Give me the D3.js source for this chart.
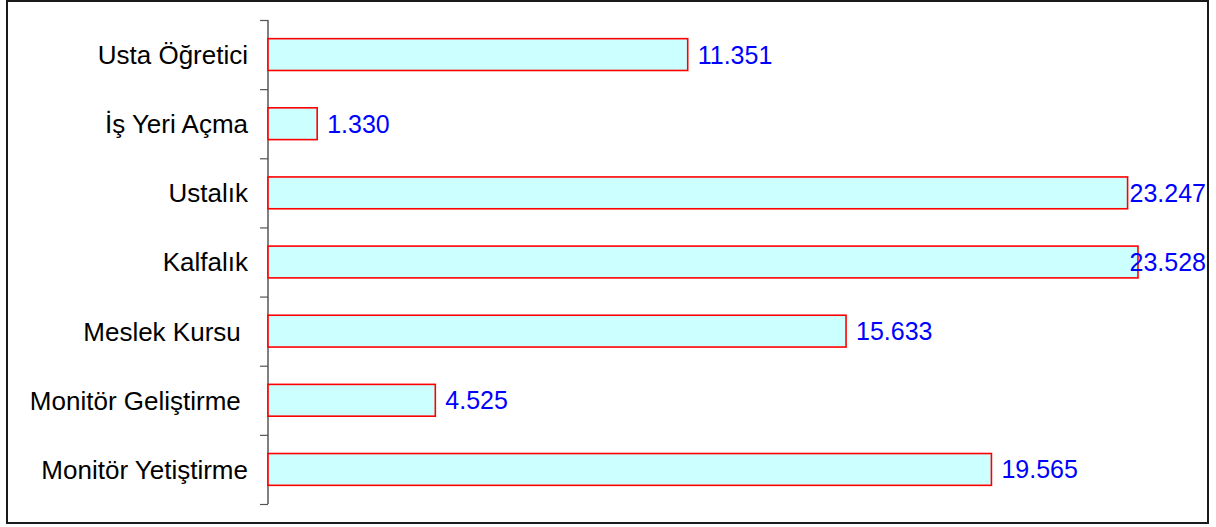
<!DOCTYPE html>
<html>
<head>
<meta charset="utf-8">
<script src="https://cdn.jsdelivr.net/npm/d3@7"></script>
<style>
  body { margin: 0; background: #fff; }
  svg text { font-family: "Liberation Sans", Arial, sans-serif; }
</style>
</head>
<body>
<div id="chart"></div>
<script>
const categories = ['Usta Öğretici', 'İş Yeri Açma', 'Ustalık', 'Kalfalık', 'Meslek Kursu ', 'Monitör Geliştirme ', 'Monitör Yetiştirme'];
const values = [11.351, 1.330, 23.247, 23.528, 15.633, 4.525, 19.565];
const valueLabels = ['11.351', '1.330', '23.247', '23.528', '15.633', '4.525', '19.565'];

const width = 1216;
const height = 527;

const plotLeft = 268;
const plotTop = 20;
const plotBottom = 504;
const labelRight = 1206;

const svg = d3.select('#chart').append('svg')
  .attr('width', width)
  .attr('height', height);

// outer frame
svg.append('rect')
  .attr('x', 7).attr('y', 1)
  .attr('width', 1201).attr('height', 522)
  .attr('fill', 'none')
  .attr('stroke', '#1a1a1a')
  .attr('stroke-width', 2);

const x = d3.scaleLinear().domain([0, 25]).range([plotLeft, plotLeft + 924.4]);
const y = d3.scaleBand().domain(categories).range([plotTop, plotBottom]).paddingInner(0.54).paddingOuter(0.27);

// category axis with tick marks at band boundaries
const band = (plotBottom - plotTop) / categories.length;
const axis = svg.append('g');
axis.append('line')
  .attr('x1', plotLeft).attr('x2', plotLeft)
  .attr('y1', plotTop).attr('y2', plotBottom)
  .attr('stroke', '#808080').attr('stroke-width', 2);
axis.selectAll('line.tick')
  .data(d3.range(categories.length + 1))
  .enter().append('line')
  .attr('class', 'tick')
  .attr('x1', plotLeft - 8).attr('x2', plotLeft)
  .attr('y1', i => plotTop + i * band + 0.5)
  .attr('y2', i => plotTop + i * band + 0.5)
  .attr('stroke', '#555').attr('stroke-width', 1.2);

axis.selectAll('text.cat')
  .data(categories)
  .enter().append('text')
  .attr('class', 'cat')
  .attr('x', 248)
  .attr('y', d => y(d) + y.bandwidth() / 2)
  .attr('dy', '0.36em')
  .attr('text-anchor', 'end')
  .attr('xml:space', 'preserve')
  .style('white-space', 'pre')
  .attr('font-size', 26)
  .attr('fill', '#000')
  .text(d => d);

// bars
svg.selectAll('rect.bar')
  .data(values)
  .enter().append('rect')
  .attr('class', 'bar')
  .attr('x', x(0))
  .attr('y', (d, i) => y(categories[i]))
  .attr('width', d => x(d) - x(0))
  .attr('height', y.bandwidth())
  .attr('fill', '#ccffff')
  .attr('stroke', '#ff0000')
  .attr('stroke-width', 1.6);

// value labels
const vl = svg.selectAll('text.val')
  .data(values)
  .enter().append('text')
  .attr('class', 'val')
  .attr('y', (d, i) => y(categories[i]) + y.bandwidth() / 2)
  .attr('dy', '0.36em')
  .attr('font-size', 25)
  .attr('fill', '#0000ff')
  .text((d, i) => valueLabels[i]);

vl.attr('x', function(d) {
  const w = this.getComputedTextLength();
  return Math.min(x(d) + 10, labelRight - w);
});
</script>
</body>
</html>
